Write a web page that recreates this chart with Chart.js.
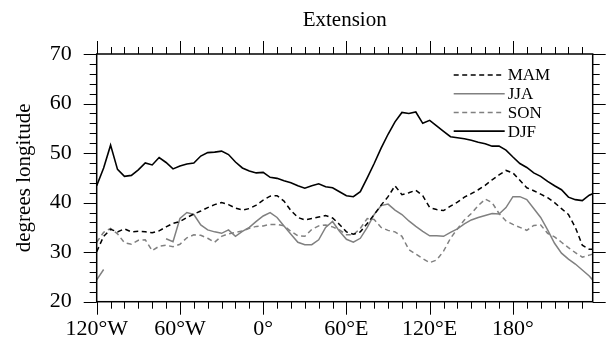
<!DOCTYPE html>
<html>
<head>
<meta charset="utf-8">
<script src="https://cdn.jsdelivr.net/npm/chart.js@4"></script>
<style>
  html, body { margin: 0; padding: 0; background: #fff; }
</style>
</head>
<body>
<canvas id="myChart" width="612" height="350"></canvas>
<script>
// longitudes (degrees, 240 = 120W wrapped)
const lons = [-120, -115, -110, -105, -100, -95, -90, -85, -80, -75, -70, -65, -60, -55, -50, -45, -40, -35, -30, -25,
  -20, -15, -10, -5, 0, 5, 10, 15, 20, 25, 30, 35, 40, 45, 50, 55, 60, 65, 70, 75,
  80, 85, 90, 95, 100, 105, 110, 115, 120, 125, 130, 135, 140, 145, 150, 155, 160, 165, 170, 175,
  180, 185, 190, 195, 200, 205, 210, 215, 220, 225, 230, 235, 237.5]

const mam = [30.1, 33.2, 34.6, 34.1, 34.7, 34.1, 34.2, 34.1, 33.9, 34.3, 35.1, 35.8, 36.2, 37.0, 37.7, 38.3, 39.0, 39.6, 40.0, 39.6,
  38.9, 38.5, 38.8, 39.5, 40.5, 41.3, 41.4, 40.3, 38.4, 37.0, 36.5, 36.8, 37.1, 37.4, 36.9, 35.6, 34.1, 33.6, 34.1, 35.8,
  37.6, 39.5, 41.2, 43.4, 41.6, 42.0, 42.5, 41.4, 39.0, 38.6, 38.4, 39.3, 40.1, 41.1, 41.8, 42.6, 43.5, 44.6, 45.6, 46.5,
  46.0, 44.5, 43.0, 42.4, 41.7, 41.0, 40.0, 38.8, 37.6, 35.0, 31.4, 30.6, 30.6]

const jja = [24.4, 26.5, null, null, null, null, null, null, null, null, 32.7, 32.1, 36.8, 38.0, 37.6, 35.5, 34.5, 34.1, 33.8, 34.5,
  33.2, 34.2, 35.0, 36.2, 37.3, 38.0, 37.0, 35.3, 33.6, 32.0, 31.5, 31.5, 32.5, 35.0, 36.2, 34.2, 32.6, 32.0, 32.8, 35.0,
  37.6, 39.4, 39.7, 38.5, 37.6, 36.3, 35.2, 34.2, 33.3, 33.3, 33.2, 34.0, 34.7, 35.7, 36.5, 37.0, 37.4, 37.8, 37.7, 39.0,
  41.2, 41.2, 40.6, 38.8, 37.0, 34.5, 31.8, 29.8, 28.6, 27.6, 26.4, 25.2, 24.4]

const son = [32.0, 34.0, 34.8, 33.7, 31.9, 31.6, 32.4, 32.5, 30.3, 31.2, 31.4, 31.1, 31.6, 32.9, 33.5, 33.4, 32.8, 32.0, 33.2, 33.7,
  34.0, 34.3, 34.8, 35.2, 35.3, 35.6, 35.6, 35.3, 34.2, 33.3, 33.2, 34.6, 35.3, 35.5, 35.1, 34.5, 33.5, 33.5, 34.8, 36.8,
  36.6, 35.0, 34.4, 34.1, 33.2, 30.5, 29.6, 28.7, 27.9, 28.4, 30.2, 32.8, 34.7, 36.5, 37.8, 39.4, 40.7, 40.0, 37.8, 36.3,
  35.6, 35.0, 34.4, 35.4, 35.5, 33.8, 33.1, 32.0, 30.9, 29.9, 29.0, 29.4, 29.6]

const djf = [43.4, 47.0, 51.6, 46.7, 45.3, 45.5, 46.6, 48.0, 47.6, 49.1, 48.1, 46.8, 47.4, 47.8, 48.0, 49.4, 50.1, 50.2, 50.4, 49.7,
  48.2, 47.0, 46.4, 46.0, 46.1, 45.1, 44.9, 44.4, 44.0, 43.4, 42.9, 43.4, 43.8, 43.2, 43.0, 42.2, 41.4, 41.2, 42.2, 45.0,
  47.9, 51.0, 53.8, 56.3, 58.2, 58.0, 58.3, 56.0, 56.6, 55.5, 54.4, 53.3, 53.1, 52.9, 52.6, 52.2, 51.9, 51.4, 51.4, 50.6,
  49.2, 47.9, 47.1, 46.0, 45.3, 44.3, 43.4, 42.6, 41.1, 40.6, 40.4, 41.5, 41.8]

const xTickLabels = { '-120': '120°W', '-60': '60°W', '0': '0°', '60': '60°E', '120': '120°E', '180': '180°' }
const yTicks = [20, 30, 40, 50, 60, 70]

const serif = 'Liberation Serif'
const gray = '#808080'

function series(vals) {
  return lons.map((x, i) => ({ x, y: vals[i] }))
}

// box + outward tick marks on all four sides (NCL style)
const frameTicks = {
  id: 'frameTicks',
  afterDraw(chart) {
    const { ctx, chartArea: a, scales: { x, y } } = chart
    ctx.save()
    ctx.strokeStyle = '#000'
    ctx.lineWidth = 1.5
    ctx.strokeRect(a.left, a.top, a.right - a.left, a.bottom - a.top)
    ctx.lineWidth = 1
    ctx.beginPath()
    for (let v = -120; v <= x.max; v += 10) {
      const px = Math.round(x.getPixelForValue(v)) + 0.5
      const len = (v % 60 === 0) ? 13 : 7
      ctx.moveTo(px, a.bottom); ctx.lineTo(px, a.bottom + len)
      ctx.moveTo(px, a.top); ctx.lineTo(px, a.top - len)
    }
    for (let v = 20; v <= 70; v += 2) {
      const py = Math.round(y.getPixelForValue(v)) + 0.5
      const len = (v % 10 === 0) ? 13 : 7
      ctx.moveTo(a.left, py); ctx.lineTo(a.left - len, py)
      ctx.moveTo(a.right, py); ctx.lineTo(a.right + len, py)
    }
    ctx.stroke()
    ctx.restore()
  }
}

// legend in the upper right of the plot
const cornerLegend = {
  id: 'cornerLegend',
  afterDraw(chart) {
    const { ctx, chartArea: a } = chart
    const x0 = a.right - 139, x1 = a.right - 88
    ctx.save()
    ctx.font = '17px "' + serif + '"'
    ctx.textBaseline = 'middle'
    ctx.fillStyle = '#000'
    chart.data.datasets.forEach((ds, i) => {
      const yy = a.top + 21 + i * 18.7
      ctx.strokeStyle = ds.borderColor
      ctx.lineWidth = ds.borderWidth
      ctx.setLineDash(ds.borderDash || [])
      ctx.beginPath()
      ctx.moveTo(x0, yy); ctx.lineTo(x1, yy)
      ctx.stroke()
      ctx.fillText(ds.label, x1 + 3, yy + 1)
    })
    ctx.restore()
  }
}

const canvas = document.getElementById('myChart')

const config = {
  type: 'line',
  data: {
    datasets: [
      { label: 'MAM', data: series(mam), borderColor: '#000', borderWidth: 1.5, borderDash: [5, 3.5] },
      { label: 'JJA', data: series(jja), borderColor: gray, borderWidth: 1.5, spanGaps: false },
      { label: 'SON', data: series(son), borderColor: gray, borderWidth: 1.5, borderDash: [5, 3.5] },
      { label: 'DJF', data: series(djf), borderColor: '#000', borderWidth: 1.6 }
    ]
  },
  options: {
    responsive: false,
    animation: false,
    devicePixelRatio: 1,
    elements: { point: { radius: 0 }, line: { tension: 0 } },
    layout: { padding: { left: 0, right: 19.3, top: 0, bottom: 0 } },
    plugins: {
      legend: { display: false },
      tooltip: { enabled: false },
      title: {
        display: true,
        text: 'Extension',
        fullSize: false,
        color: '#000',
        font: { family: serif, size: 21, weight: 'normal' },
        padding: { top: 8, bottom: 20.8 }
      }
    },
    scales: {
      x: {
        type: 'linear',
        min: -120,
        max: 237.5,
        grid: { display: false, drawTicks: false },
        border: { display: false },
        afterFit: s => { s.height = 48.3 },
        afterBuildTicks: s => { s.ticks = Object.keys(xTickLabels).map(v => ({ value: +v })) },
        ticks: {
          color: '#000',
          padding: 14,
          maxRotation: 0,
          autoSkip: false,
          font: { family: serif, size: 22 },
          callback: v => xTickLabels[String(v)] || ''
        }
      },
      y: {
        min: 20,
        max: 70,
        grid: { display: false, drawTicks: false },
        border: { display: false },
        afterFit: s => { s.width = 96.7 },
        afterBuildTicks: s => { s.ticks = yTicks.map(v => ({ value: v })) },
        title: {
          display: true,
          text: 'degrees longitude',
          color: '#000',
          font: { family: serif, size: 21 },
          padding: { top: 12, bottom: 0 }
        },
        ticks: {
          color: '#000',
          padding: 25,
          font: { family: serif, size: 22 }
        }
      }
    }
  },
  plugins: [frameTicks, cornerLegend]
}

const myChart = new Chart(canvas, config)
</script>
</body>
</html>
